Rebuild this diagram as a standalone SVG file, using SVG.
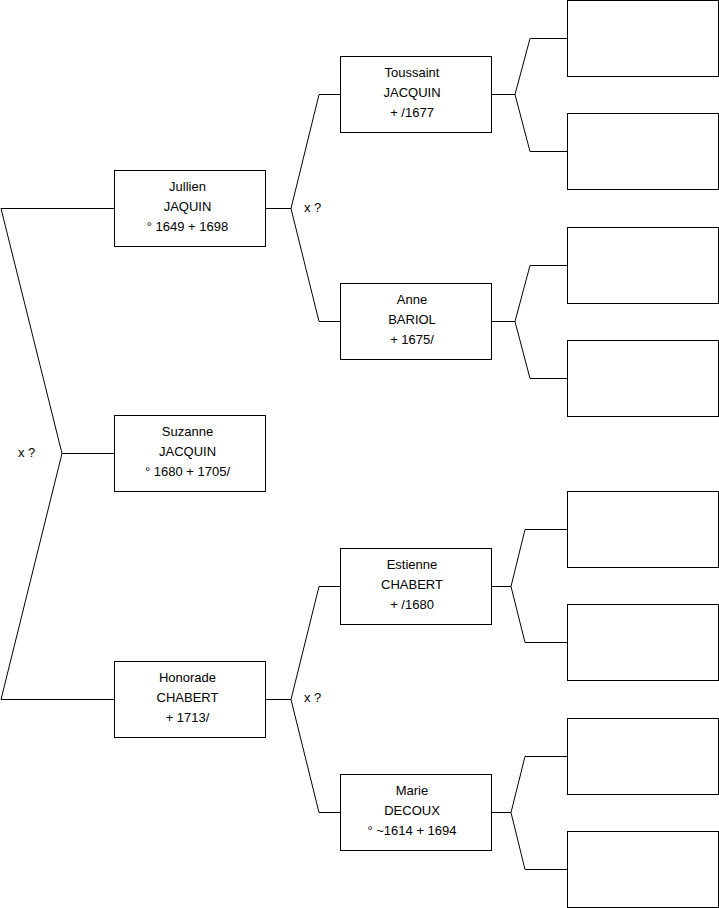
<svg xmlns="http://www.w3.org/2000/svg" width="719" height="908" viewBox="0 0 719 908">
<style>
.box{fill:#fff;stroke:#000;stroke-width:1}
.t{font-family:"Liberation Sans",Arial,sans-serif;font-size:13px;fill:#000;text-anchor:middle}
.l{font-family:"Liberation Sans",Arial,sans-serif;font-size:13px;fill:#000}
.c{fill:none;stroke:#000;stroke-width:1}
</style>
<rect width="719" height="908" fill="#fff"/>
<g id="connectors">
<path class="c" d="M114.5,208.5 H1 L62,453.5 L1,699.5 H114.5 M62,453.5 H114.5"/>
<path class="c" d="M265.5,208.5 H291 L319,94.5 H340.5 M291,208.5 L319,321.5 H340.5"/>
<path class="c" d="M265.5,699.5 H291 L319,586.5 H340.5 M291,699.5 L319,812.5 H340.5"/>
<path class="c" d="M491.5,94.5 H515 L530,38.5 H567.5 M515,94.5 L530,151.5 H567.5"/>
<path class="c" d="M491.5,321.5 H515 L530,265.5 H567.5 M515,321.5 L530,378.5 H567.5"/>
<path class="c" d="M491.5,586.5 H511 L525,529.5 H567.5 M511,586.5 L525,642.5 H567.5"/>
<path class="c" d="M491.5,812.5 H511 L525,756.5 H567.5 M511,812.5 L525,869.5 H567.5"/>
<text class="l" x="18" y="456.5">x ?</text>
<text class="l" x="304" y="212">x ?</text>
<text class="l" x="304" y="702">x ?</text>
</g>
<g id="jullien">
<rect class="box" x="114.5" y="170.5" width="151" height="76"/>
<text class="t" x="187.5" y="190.5">Jullien</text>
<text class="t" x="187.5" y="210.5">JAQUIN</text>
<text class="t" x="187.5" y="230.5">° 1649 + 1698</text>
</g>
<g id="suzanne">
<rect class="box" x="114.5" y="415.5" width="151" height="76"/>
<text class="t" x="187.5" y="435.5">Suzanne</text>
<text class="t" x="187.5" y="455.5">JACQUIN</text>
<text class="t" x="187.5" y="475.5">° 1680 + 1705/</text>
</g>
<g id="honorade">
<rect class="box" x="114.5" y="661.5" width="151" height="76"/>
<text class="t" x="187.5" y="681.5">Honorade</text>
<text class="t" x="187.5" y="701.5">CHABERT</text>
<text class="t" x="187.5" y="721.5">+ 1713/</text>
</g>
<g id="toussaint">
<rect class="box" x="340.5" y="56.5" width="151" height="76"/>
<text class="t" x="412" y="77">Toussaint</text>
<text class="t" x="412" y="97">JACQUIN</text>
<text class="t" x="412" y="117">+ /1677</text>
</g>
<g id="anne">
<rect class="box" x="340.5" y="283.5" width="151" height="76"/>
<text class="t" x="412" y="303.5">Anne</text>
<text class="t" x="412" y="323.5">BARIOL</text>
<text class="t" x="412" y="343.5">+ 1675/</text>
</g>
<g id="estienne">
<rect class="box" x="340.5" y="548.5" width="151" height="76"/>
<text class="t" x="412" y="568.5">Estienne</text>
<text class="t" x="412" y="588.5">CHABERT</text>
<text class="t" x="412" y="608.5">+ /1680</text>
</g>
<g id="marie">
<rect class="box" x="340.5" y="774.5" width="151" height="76"/>
<text class="t" x="412" y="794.5">Marie</text>
<text class="t" x="412" y="814.5">DECOUX</text>
<text class="t" x="412" y="834.5">° ~1614 + 1694</text>
</g>
<g id="gen3">
<rect id="p1" class="box" x="567.5" y="0.5" width="151" height="76"/>
<rect id="p2" class="box" x="567.5" y="113.5" width="151" height="76"/>
<rect id="p3" class="box" x="567.5" y="227.5" width="151" height="76"/>
<rect id="p4" class="box" x="567.5" y="340.5" width="151" height="76"/>
<rect id="p5" class="box" x="567.5" y="491.5" width="151" height="76"/>
<rect id="p6" class="box" x="567.5" y="604.5" width="151" height="76"/>
<rect id="p7" class="box" x="567.5" y="718.5" width="151" height="76"/>
<rect id="p8" class="box" x="567.5" y="831.5" width="151" height="76"/>
</g>
</svg>
